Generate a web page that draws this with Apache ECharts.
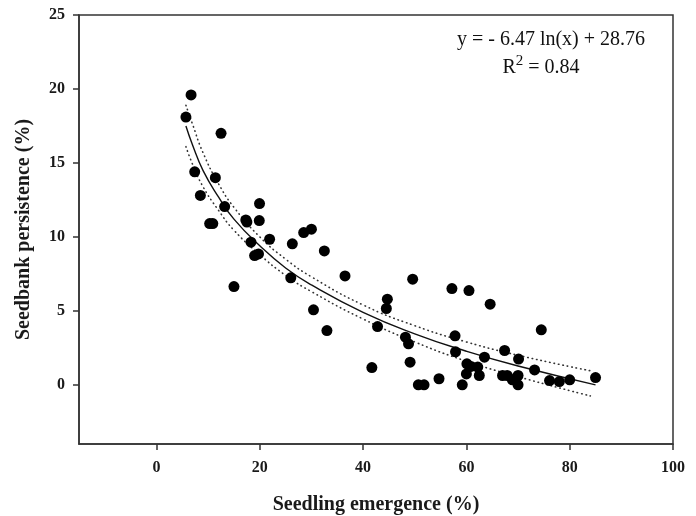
<!DOCTYPE html>
<html>
<head>
<meta charset="utf-8">
<script src="https://cdn.jsdelivr.net/npm/echarts@6/dist/echarts.min.js"></script>
<style>html,body{margin:0;padding:0;background:#fff}#c{width:696px;height:516px}</style>
</head>
<body>
<div id="c"></div>
<script>
const emergence = [5.7,6.7,7.4,8.5,10.3,10.9,11.4,12.5,13.2,15.0,17.3,17.5,18.3,19.0,19.75,19.9,19.95,21.9,26.0,26.3,28.5,30.0,30.4,32.5,33.0,36.5,41.7,42.8,44.5,44.7,48.2,48.8,49.1,49.6,50.7,51.8,54.7,57.2,57.8,57.9,59.2,60.0,60.1,60.5,60.9,62.2,62.5,63.5,64.6,67.0,67.4,67.9,68.9,70.0,70.0,70.1,73.2,74.5,76.1,78.0,80.0,85.0];
const persistence = [18.1,19.6,14.4,12.8,10.9,10.9,14.0,17.0,12.05,6.64,11.15,11.0,9.64,8.74,8.85,11.1,12.25,9.84,7.23,9.53,10.29,10.52,5.07,9.05,3.67,7.36,1.17,3.94,5.16,5.79,3.22,2.77,1.53,7.14,0,0,0.41,6.51,3.31,2.23,0,0.74,1.42,6.37,1.24,1.2,0.63,1.87,5.45,0.63,2.32,0.63,0.34,0.63,0,1.74,1.01,3.72,0.29,0.22,0.34,0.49];
// Fitted curve and confidence band
const curveX = [5.7,7,9,12,15,20,25,30,40,50,60,70,85];
const curveY = [17.5,16.2,14.5,12.7,11.2,9.4,7.9,6.75,4.9,3.45,2.27,1.27,0.0];
const bandX = [5.7,7,9,12,15,20,25,30,40,50,60,70,84];
const upperY = [18.9,17.6,15.7,13.6,12.0,10.0,8.5,7.3,5.4,4.0,2.9,2.0,0.95];
const lowerY = [16.1,14.9,13.4,11.8,10.45,8.8,7.4,6.3,4.45,2.9,1.6,0.55,-0.75];
const xTicks = [0,20,40,60,80,100];
const yTicks = [0,5,10,15,20,25];
const equation = 'y = - 6.47 ln(x) + 28.76';
const r2 = '0.84';

const pts = emergence.map((x,i)=>[x,persistence[i]]);
const curve = curveX.map((x,i)=>[x,curveY[i]]);
const upper = bandX.map((x,i)=>[x,upperY[i]]);
const lower = bandX.map((x,i)=>[x,lowerY[i]]);

const ink = '#1a1a1a';
const serif = '"Liberation Serif","Times New Roman",serif';
const chart = echarts.init(document.getElementById('c'), null, {renderer:'canvas'});
chart.setOption({
  animation:false,
  backgroundColor:'#fff',
  grid:{left:79,right:23,top:15,bottom:72,outerBoundsMode:'none',containLabel:false,show:true,borderColor:'#333',borderWidth:1.5,backgroundColor:'transparent'},
  xAxis:{
    type:'value',min:-15,max:100,
    name:'Seedling emergence (%)',nameLocation:'middle',nameGap:51,
    nameTextStyle:{fontFamily:serif,fontWeight:'bold',fontSize:20,color:ink},
    axisLine:{show:true,onZero:false,lineStyle:{color:'#333',width:1.5}},
    axisTick:{show:true,length:6,customValues:xTicks,lineStyle:{color:'#333',width:1.5}},
    axisLabel:{customValues:xTicks,margin:16,fontFamily:serif,fontWeight:'bold',fontSize:16,color:ink},
    splitLine:{show:false}
  },
  yAxis:{
    type:'value',min:-4,max:25,
    name:'Seedbank persistence (%)',nameLocation:'middle',nameGap:45,
    nameTextStyle:{fontFamily:serif,fontWeight:'bold',fontSize:20,color:ink},
    axisLine:{show:true,onZero:false,lineStyle:{color:'#333',width:1.5}},
    axisTick:{show:true,length:6,customValues:yTicks,lineStyle:{color:'#333',width:1.5}},
    axisLabel:{customValues:yTicks,margin:14,fontFamily:serif,fontWeight:'bold',fontSize:16,color:ink},
    splitLine:{show:false}
  },
  series:[
    {type:'line',data:upper,smooth:true,showSymbol:false,silent:true,
     lineStyle:{color:'#333',width:1.6,type:[0.5,4],cap:'round'},z:2},
    {type:'line',data:lower,smooth:true,showSymbol:false,silent:true,
     lineStyle:{color:'#333',width:1.6,type:[0.5,4],cap:'round'},z:2},
    {type:'line',data:curve,smooth:true,showSymbol:false,silent:true,
     lineStyle:{color:'#111',width:1.4},z:3},
    {type:'scatter',data:pts,symbol:'circle',symbolSize:11,itemStyle:{color:'#000',opacity:1},z:4}
  ],
  graphic:[
    {type:'text',x:551,y:40,style:{text:equation,font:'20px '+serif,fill:'#111',align:'center',verticalAlign:'middle'}},
    {type:'text',x:541,y:68,style:{text:'R{sup|2} = '+r2,font:'20px '+serif,fill:'#111',align:'center',verticalAlign:'middle',
      rich:{sup:{fontSize:15,fontFamily:'Liberation Serif',verticalAlign:'top',lineHeight:28,padding:[0,0,10,0]}}}}
  ]
});
</script>
</body>
</html>
